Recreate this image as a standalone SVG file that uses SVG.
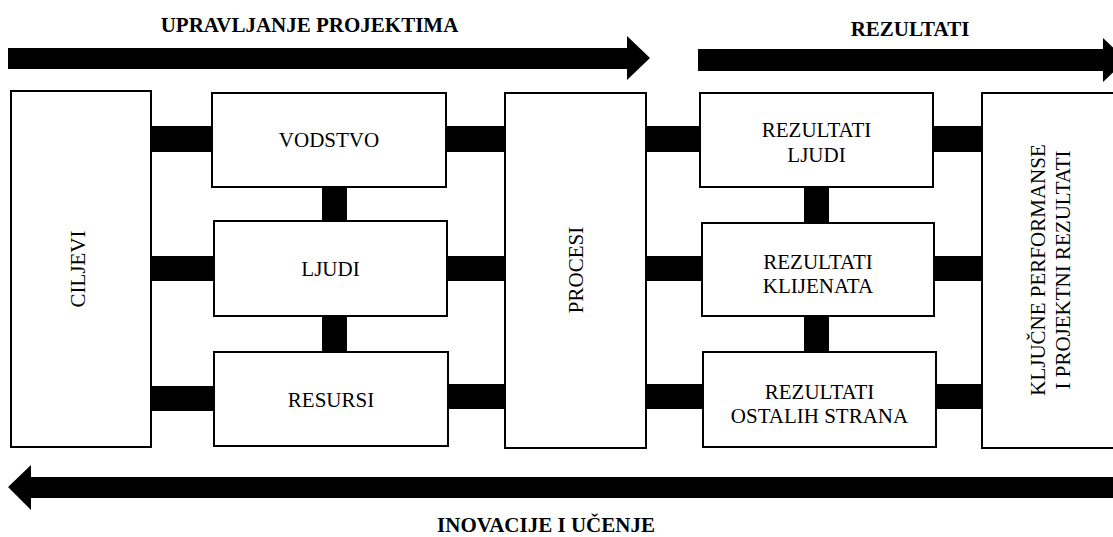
<svg xmlns="http://www.w3.org/2000/svg" width="1113" height="537" viewBox="0 0 1113 537">
<style>
.box{fill:#fff;stroke:#000;stroke-width:2}
.bar{fill:#000}
.t{font-family:'Liberation Serif','Times New Roman',serif;font-size:21px;fill:#000;text-anchor:middle}
.hdr{font-weight:bold}
</style>
<rect width="1113" height="537" fill="#fff"/>
<g id="arrows">
<polygon class="bar" points="8,48 627,48 627,36 650,58 627,80 627,69 8,69"/>
<polygon class="bar" points="698,49 1103,49 1103,38 1126,60 1103,82 1103,71 698,71"/>
<polygon class="bar" points="8,487 31,465 31,477 1113,477 1113,498 31,498 31,510"/>
</g>
<text class="t hdr" x="309.5" y="32">UPRAVLJANJE PROJEKTIMA</text>
<text class="t hdr" x="910" y="36">REZULTATI</text>
<text class="t hdr" x="546" y="532">INOVACIJE I UČENJE</text>
<g id="connectors">
<rect class="bar" x="151" y="126" width="61" height="26"/>
<rect class="bar" x="446" y="126" width="59" height="26"/>
<rect class="bar" x="646" y="126" width="54" height="26"/>
<rect class="bar" x="933" y="126" width="49" height="26"/>
<rect class="bar" x="151" y="256" width="63" height="25"/>
<rect class="bar" x="447" y="256" width="58" height="25"/>
<rect class="bar" x="646" y="256" width="56" height="25"/>
<rect class="bar" x="934" y="256" width="48" height="25"/>
<rect class="bar" x="151" y="386" width="63" height="25"/>
<rect class="bar" x="448" y="384" width="57" height="25"/>
<rect class="bar" x="646" y="384" width="57" height="25"/>
<rect class="bar" x="936" y="384" width="46" height="25"/>
<rect class="bar" x="322" y="187" width="25" height="34"/>
<rect class="bar" x="322" y="316" width="25" height="36"/>
<rect class="bar" x="804" y="187" width="25" height="36"/>
<rect class="bar" x="804" y="316" width="25" height="36"/>
</g>
<g id="ciljevi">
<rect class="box" x="11" y="91" width="140" height="356"/>
<text class="t" transform="translate(85,269) rotate(-90)">CILJEVI</text>
</g>
<g id="vodstvo">
<rect class="box" x="212" y="93" width="234" height="94"/>
<text class="t" x="329" y="147">VODSTVO</text>
</g>
<g id="ljudi">
<rect class="box" x="214" y="221" width="233" height="95"/>
<text class="t" x="330.5" y="276">LJUDI</text>
</g>
<g id="resursi">
<rect class="box" x="214" y="352" width="234" height="94"/>
<text class="t" x="331" y="407">RESURSI</text>
</g>
<g id="procesi">
<rect class="box" x="505" y="93" width="141" height="355"/>
<text class="t" transform="translate(583,270) rotate(-90)">PROCESI</text>
</g>
<g id="rezultati-ljudi">
<rect class="box" x="700" y="93" width="233" height="94"/>
<text class="t" x="816.5" y="137">REZULTATI</text>
<text class="t" x="816.5" y="162">LJUDI</text>
</g>
<g id="rezultati-klijenata">
<rect class="box" x="702" y="223" width="232" height="93"/>
<text class="t" x="818" y="269">REZULTATI</text>
<text class="t" x="818" y="293">KLIJENATA</text>
</g>
<g id="rezultati-ostalih">
<rect class="box" x="703" y="352" width="233" height="95"/>
<text class="t" x="819.5" y="399">REZULTATI</text>
<text class="t" x="819.5" y="423">OSTALIH STRANA</text>
</g>
<g id="kljucne">
<rect class="box" x="982" y="93" width="140" height="355"/>
<text class="t" transform="translate(1045,270) rotate(-90)">KLJUČNE PERFORMANSE</text>
<text class="t" transform="translate(1070,270) rotate(-90)">I PROJEKTNI REZULTATI</text>
</g>
</svg>
